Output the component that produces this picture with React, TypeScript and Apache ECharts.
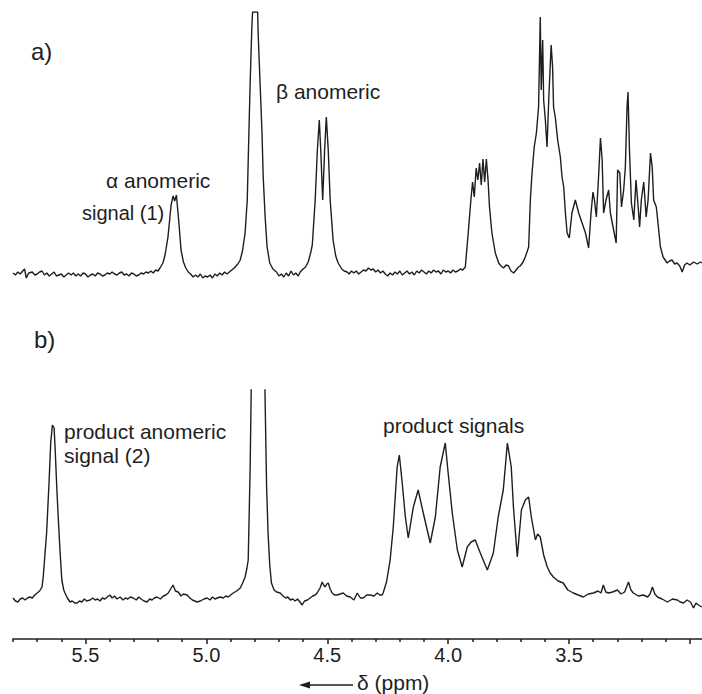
import React, { useEffect, useRef } from 'react';
import * as echarts from 'echarts';

// chemical shift range (ppm), axis runs right-to-left
const ppmHigh = 5.8;
const ppmLow = 2.95;
const majorTicks = [5.5, 5.0, 4.5, 4.0, 3.5, 3.0];
const tickLabels = [5.5, 5.0, 4.5, 4.0, 3.5];
const minorTicks = [5.8, 5.7, 5.6, 5.4, 5.3, 5.2, 5.1, 4.9, 4.8, 4.7, 4.6, 4.4, 4.3, 4.2, 4.1, 3.9, 3.8, 3.7, 3.6, 3.4, 3.3, 3.2, 3.1];

// spectrum a) : [ppm, intensity] (HDO peak is clipped at 262 in the original figure)
const spectrumA: [number, number][] = [
  [5.800, 1], [5.790, -1], [5.780, 2], [5.770, 0], [5.760, 3], [5.752, 5], [5.745, -4], [5.735, 1], [5.720, 2], [5.710, -1],
  [5.700, 0], [5.690, 2], [5.680, 3], [5.670, -1], [5.660, 1], [5.650, -2], [5.640, 0], [5.630, 2], [5.620, -2], [5.610, -1],
  [5.600, 0], [5.590, -3], [5.580, -1], [5.570, 1], [5.560, -1], [5.550, 1], [5.540, -2], [5.530, 0], [5.520, -2], [5.510, 1],
  [5.500, 0], [5.490, -3], [5.480, -1], [5.470, 0], [5.460, -2], [5.450, 1], [5.440, 0], [5.430, -2], [5.420, -1], [5.410, 1],
  [5.400, 0], [5.390, 2], [5.380, 0], [5.370, -1], [5.360, 1], [5.350, 2], [5.340, -1], [5.330, 0], [5.320, -2], [5.310, 1],
  [5.300, 0], [5.290, -2], [5.280, -1], [5.270, 1], [5.260, 0], [5.250, 2], [5.240, 1], [5.230, 3], [5.220, 1], [5.210, 4],
  [5.200, 3], [5.192, 6], [5.180, 11], [5.171, 19], [5.159, 37], [5.146, 69], [5.138, 78], [5.131, 73], [5.124, 79], [5.113, 49],
  [5.105, 24], [5.095, 12], [5.085, 6], [5.075, 2], [5.065, 0], [5.055, -3], [5.045, -1], [5.035, -3], [5.025, 0], [5.015, -4],
  [5.005, -2], [4.995, -3], [4.985, -1], [4.975, -4], [4.965, 0], [4.955, -2], [4.945, 1], [4.935, -1], [4.925, 2], [4.915, 0],
  [4.905, 2], [4.895, 4], [4.885, 6], [4.870, 10], [4.860, 14], [4.850, 24], [4.840, 41], [4.831, 74], [4.826, 124], [4.819, 191],
  [4.812, 247], [4.809, 262], [4.788, 262], [4.786, 241], [4.778, 191], [4.770, 141], [4.765, 97], [4.757, 57], [4.749, 27], [4.738, 11],
  [4.725, 5], [4.710, 2], [4.700, -2], [4.690, 0], [4.680, -3], [4.670, 1], [4.660, -2], [4.650, 3], [4.640, -1], [4.630, 1],
  [4.620, -2], [4.612, 2], [4.600, 5], [4.590, 7], [4.579, 12], [4.568, 22], [4.562, 29], [4.550, 74], [4.541, 124], [4.533, 154],
  [4.527, 124], [4.519, 74], [4.511, 124], [4.504, 157], [4.496, 124], [4.488, 74], [4.476, 34], [4.465, 18], [4.455, 11], [4.440, 5],
  [4.430, 3], [4.418, 2], [4.410, 0], [4.400, 3], [4.390, 1], [4.380, 3], [4.370, 0], [4.360, 2], [4.350, 4], [4.340, 3],
  [4.330, 6], [4.320, 4], [4.310, 5], [4.300, 2], [4.290, 4], [4.280, 1], [4.270, 3], [4.260, 0], [4.250, -2], [4.240, 1],
  [4.230, -1], [4.220, 2], [4.210, 0], [4.200, 3], [4.190, -1], [4.180, 1], [4.170, 3], [4.160, 0], [4.150, 2], [4.140, -1],
  [4.130, 3], [4.120, 1], [4.110, 4], [4.100, 2], [4.090, 0], [4.080, 3], [4.070, 1], [4.060, 4], [4.050, 2], [4.040, 3],
  [4.030, 0], [4.020, 4], [4.010, 2], [4.000, 3], [3.990, 1], [3.980, 4], [3.970, 2], [3.960, 3], [3.950, 5], [3.940, 4],
  [3.929, 7], [3.917, 41], [3.906, 74], [3.899, 92], [3.892, 77], [3.884, 106], [3.877, 94], [3.870, 111], [3.863, 89], [3.856, 115],
  [3.849, 92], [3.842, 115], [3.835, 94], [3.829, 67], [3.819, 41], [3.805, 21], [3.791, 11], [3.781, 8], [3.771, 6], [3.760, 9],
  [3.750, 8], [3.740, 3], [3.729, 1], [3.719, 4], [3.709, 7], [3.702, 8], [3.690, 12], [3.681, 17], [3.667, 27], [3.660, 74],
  [3.653, 101], [3.644, 127], [3.635, 141], [3.626, 167], [3.619, 257], [3.615, 184], [3.609, 234], [3.605, 174], [3.598, 154], [3.591, 127],
  [3.584, 174], [3.574, 229], [3.568, 207], [3.564, 167], [3.557, 157], [3.547, 134], [3.536, 117], [3.529, 97], [3.522, 87], [3.515, 61],
  [3.508, 41], [3.499, 36], [3.488, 61], [3.474, 74], [3.460, 61], [3.446, 51], [3.432, 41], [3.419, 26], [3.409, 61], [3.401, 82],
  [3.395, 74], [3.387, 57], [3.377, 101], [3.370, 136], [3.363, 114], [3.357, 61], [3.347, 74], [3.336, 84], [3.329, 61], [3.318, 47],
  [3.305, 31], [3.299, 104], [3.290, 101], [3.283, 67], [3.274, 84], [3.267, 107], [3.260, 167], [3.256, 182], [3.250, 124], [3.242, 71],
  [3.232, 54], [3.223, 94], [3.214, 67], [3.208, 47], [3.201, 74], [3.191, 92], [3.181, 57], [3.173, 74], [3.163, 121], [3.156, 107],
  [3.150, 74], [3.139, 67], [3.132, 51], [3.122, 27], [3.111, 17], [3.094, 11], [3.084, 13], [3.074, 14], [3.063, 10], [3.053, 11],
  [3.042, 8], [3.032, 2], [3.022, 9], [3.012, 11], [3.000, 9], [2.985, 12], [2.970, 10], [2.956, 12], [2.950, 11],
];

// spectrum b) : [ppm, intensity] (HDO peak runs off the top of the panel)
const spectrumB: [number, number][] = [
  [5.800, 2], [5.790, -1], [5.780, -2], [5.770, 1], [5.760, 2], [5.750, 0], [5.740, 2], [5.730, 3], [5.720, 2], [5.710, 5],
  [5.700, 7], [5.690, 9], [5.680, 13], [5.675, 23], [5.661, 67], [5.651, 117], [5.644, 157], [5.637, 175], [5.630, 172], [5.626, 153],
  [5.619, 113], [5.613, 83], [5.605, 47], [5.598, 20], [5.590, 10], [5.585, 7], [5.575, 2], [5.564, -2], [5.555, -1], [5.545, -3],
  [5.535, -3], [5.525, -1], [5.515, -2], [5.505, 1], [5.495, -1], [5.481, 0], [5.470, 2], [5.460, 0], [5.450, 1], [5.440, -1],
  [5.430, 2], [5.420, 1], [5.410, 3], [5.399, 5], [5.390, 2], [5.380, 4], [5.370, 1], [5.357, 3], [5.345, 0], [5.335, 2],
  [5.325, 1], [5.315, 3], [5.303, 2], [5.290, 0], [5.280, 3], [5.270, 1], [5.258, -1], [5.245, -2], [5.235, 1], [5.225, 0],
  [5.215, 2], [5.204, 3], [5.190, 1], [5.178, 4], [5.168, 5], [5.158, 7], [5.148, 11], [5.138, 15], [5.128, 9], [5.117, 8],
  [5.105, 4], [5.095, 6], [5.080, 5], [5.068, 2], [5.058, 0], [5.048, -1], [5.038, -2], [5.025, -1], [5.010, 1], [4.997, 2],
  [4.985, 0], [4.975, 3], [4.965, 1], [4.955, 2], [4.943, 3], [4.930, 2], [4.920, 4], [4.910, 3], [4.900, 5], [4.889, 7],
  [4.875, 9], [4.860, 12], [4.850, 17], [4.840, 23], [4.833, 31], [4.827, 40], [4.819, 133], [4.813, 240], [4.800, 420], [4.770, 420],
  [4.760, 240], [4.751, 113], [4.745, 67], [4.738, 35], [4.731, 17], [4.720, 10], [4.710, 8], [4.695, 7], [4.683, 4], [4.672, 2],
  [4.663, 3], [4.653, 0], [4.643, 1], [4.633, -1], [4.623, 1], [4.613, -2], [4.604, -5], [4.594, -1], [4.582, 0], [4.571, 2],
  [4.560, 4], [4.550, 5], [4.542, 7], [4.530, 12], [4.521, 18], [4.515, 15], [4.509, 13], [4.502, 16], [4.496, 17], [4.488, 11],
  [4.480, 7], [4.470, 5], [4.459, 5], [4.447, 6], [4.434, 7], [4.420, 4], [4.405, 3], [4.390, 0], [4.376, 7], [4.363, 2],
  [4.351, 2], [4.337, 5], [4.322, 5], [4.307, 4], [4.293, 7], [4.283, 5], [4.273, 5], [4.269, 7], [4.255, 18], [4.240, 40],
  [4.227, 73], [4.211, 133], [4.202, 145], [4.190, 117], [4.177, 83], [4.165, 62], [4.144, 93], [4.124, 110], [4.103, 87], [4.074, 57],
  [4.053, 83], [4.033, 133], [4.012, 157], [4.000, 127], [3.983, 87], [3.962, 50], [3.942, 33], [3.921, 53], [3.905, 58], [3.888, 60],
  [3.867, 47], [3.838, 30], [3.813, 47], [3.793, 83], [3.772, 110], [3.755, 157], [3.739, 133], [3.730, 93], [3.714, 43], [3.697, 90],
  [3.681, 100], [3.667, 103], [3.656, 83], [3.639, 60], [3.630, 66], [3.619, 63], [3.605, 45], [3.590, 33], [3.578, 27], [3.565, 23],
  [3.545, 19], [3.524, 17], [3.505, 10], [3.482, 7], [3.462, 5], [3.441, 3], [3.420, 6], [3.399, 7], [3.380, 9], [3.368, 7],
  [3.358, 15], [3.348, 8], [3.337, 7], [3.320, 8], [3.300, 10], [3.285, 6], [3.270, 8], [3.254, 18], [3.244, 10], [3.234, 7],
  [3.213, 4], [3.192, 5], [3.175, 3], [3.165, 6], [3.155, 13], [3.145, 6], [3.134, 3], [3.115, 1], [3.093, -2], [3.072, 1],
  [3.052, 0], [3.040, -2], [3.027, -3], [3.012, 0], [2.998, -2], [2.985, -8], [2.975, -3], [2.965, -5], [2.950, -7],
];

const panelLabels = ['a)', 'b)'];
const notesA = ['\u03B1 anomeric', 'signal (1)', '\u03B2 anomeric'];
const notesB = ['product anomeric', 'signal (2)', 'product signals'];
const axisTitle = '\u03B4 (ppm)';

export default function App() {
  const ref = useRef<HTMLDivElement>(null);
  useEffect(() => {
    if (!ref.current) return;
    const chart = echarts.init(ref.current, null, { renderer: 'svg' });
    const font = '"Liberation Sans", Arial, Helvetica, sans-serif';
    const ink = '#1e1e1e';
    const txt = (text: string, x: number, y: number, size: number) => ({
      type: 'text',
      x,
      y,
      style: {
        text,
        fill: ink,
        fontSize: size,
        fontFamily: font,
        textVerticalAlign: 'middle',
        verticalAlign: 'middle',
      },
    });
    chart.setOption({
      animation: false,
      backgroundColor: '#ffffff',
      grid: [
        { left: 13, right: 0, top: 12, bottom: 400 },
        { left: 13, right: 0, top: 390, bottom: 55 },
      ],
      xAxis: [
        { gridIndex: 0, type: 'value', min: ppmLow, max: ppmHigh, inverse: true, show: false },
        {
          gridIndex: 1, type: 'value', min: ppmLow, max: ppmHigh, inverse: true, position: 'bottom',
          axisLine: { show: true, onZero: false, lineStyle: { color: ink, width: 1.6 } },
          axisTick: { show: true, customValues: majorTicks, length: 5, lineStyle: { color: ink, width: 1.5 } },
          axisLabel: {
            show: true, customValues: tickLabels, formatter: (v: number) => v.toFixed(1),
            fontSize: 20, color: ink, fontFamily: font, margin: 6,
          },
          splitLine: { show: false },
        },
        {
          gridIndex: 1, type: 'value', min: ppmLow, max: ppmHigh, inverse: true, position: 'bottom',
          axisLine: { show: false, onZero: false },
          axisTick: { show: true, customValues: minorTicks, length: 3, lineStyle: { color: ink, width: 1.5 } },
          axisLabel: { show: false },
          splitLine: { show: false },
        },
      ],
      yAxis: [
        { gridIndex: 0, type: 'value', min: -20, max: 262, show: false },
        { gridIndex: 1, type: 'value', min: -39, max: 210, show: false },
      ],
      series: [
        {
          type: 'line', xAxisIndex: 0, yAxisIndex: 0, data: spectrumA, symbol: 'none', showSymbol: false,
          clip: true, lineStyle: { color: ink, width: 1.4 },
        },
        {
          type: 'line', xAxisIndex: 1, yAxisIndex: 1, data: spectrumB, symbol: 'none', showSymbol: false,
          clip: true, lineStyle: { color: ink, width: 1.4 },
        },
      ],
      graphic: [
        txt(panelLabels[0], 31, 51, 24),
        txt(panelLabels[1], 34, 339, 24),
        txt(notesA[0], 106, 180, 21),
        txt(notesA[1], 82, 213, 20),
        txt(notesA[2], 276, 91, 21),
        txt(notesB[0], 64, 431, 21),
        txt(notesB[1], 64, 455, 21),
        txt(notesB[2], 383, 425, 21),
        txt(axisTitle, 357, 682, 21),
        { type: 'line', shape: { x1: 306, y1: 685, x2: 353, y2: 685 }, style: { stroke: ink, lineWidth: 1.6 } },
        { type: 'polygon', shape: { points: [[299, 685], [310, 681.5], [310, 688.5]] }, style: { fill: ink } },
      ],
    });
    return () => chart.dispose();
  }, []);
  return <div ref={ref} style={{ position: 'absolute', left: 0, top: 0, width: 702, height: 694 }} />;
}
